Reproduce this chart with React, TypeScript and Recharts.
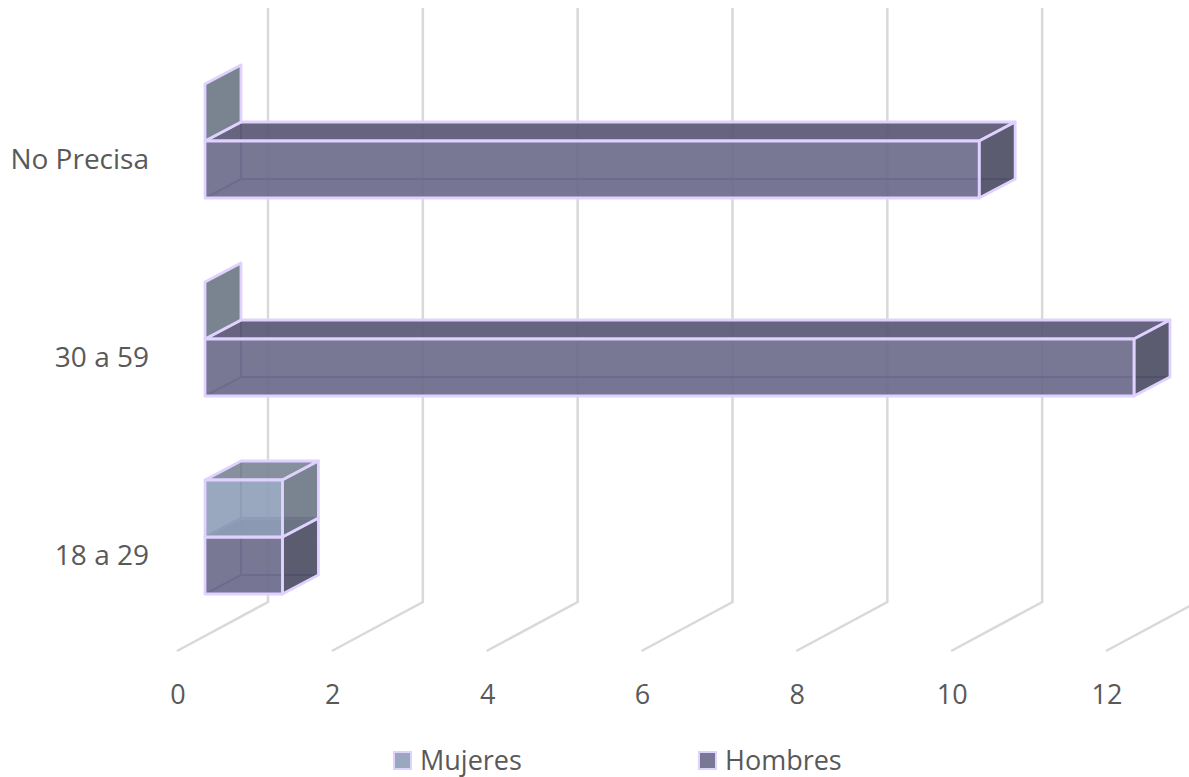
import { Bar, BarChart, CartesianGrid, Legend, XAxis, YAxis } from 'recharts';

const categories = ['No Precisa', '30 a 59', '18 a 29'];
const mujeres = [0, 0, 1];
const hombres = [10, 12, 1];
const xTicks = [0, 2, 4, 6, 8, 10, 12];

const data = categories.map((name, i) => ({ name, Mujeres: mujeres[i], Hombres: hombres[i] }));

const FONT = '"Open Sans", sans-serif';
const TEXT = '#595959';
const GRID = '#d9d9d9';
const EDGE = '#e0d2ff';
const DEPTH_X = 36;
const DEPTH_Y = -19;

const mujeresFaces = { front: '#8f9eb8', top: '#7a8594', side: '#6b7684' };
const hombresFaces = { front: '#696888', top: '#565371', side: '#4a4a62' };

function pts(list: number[][]) {
  return list.map((p) => p.join(',')).join(' ');
}

// 3D box, the front face is the rectangle the scale gives us
function boxShape(faces: { front: string; top: string; side: string }) {
  return function Box(props: any) {
    const { x, y, width, height } = props;
    const r = x + width;
    const b = y + height;
    const face = { stroke: EDGE, strokeWidth: 2.8, strokeLinejoin: 'round' as const, fillOpacity: 0.9 };
    const left = (
      <polygon
        points={pts([[x, y], [x + DEPTH_X, y + DEPTH_Y], [x + DEPTH_X, b + DEPTH_Y], [x, b]])}
        fill={faces.side}
        {...face}
      />
    );
    if (!width) return <g>{left}</g>;
    return (
      <g>
        <polygon
          points={pts([[x, b], [x + DEPTH_X, b + DEPTH_Y], [r + DEPTH_X, b + DEPTH_Y], [r, b]])}
          fill={faces.top}
          fillOpacity={0.12}
        />
        <path
          d={`M${x},${b} L${x + DEPTH_X},${b + DEPTH_Y} L${r + DEPTH_X},${b + DEPTH_Y} M${x + DEPTH_X},${b + DEPTH_Y} L${x + DEPTH_X},${y + DEPTH_Y}`}
          fill="none"
          stroke="#5f58a8"
          strokeOpacity={0.7}
          strokeWidth={2}
        />
        <polygon
          points={pts([[x, y], [x + DEPTH_X, y + DEPTH_Y], [r + DEPTH_X, y + DEPTH_Y], [r, y]])}
          fill={faces.top}
          {...face}
        />
        <polygon
          points={pts([[r, y], [r + DEPTH_X, y + DEPTH_Y], [r + DEPTH_X, b + DEPTH_Y], [r, b]])}
          fill={faces.side}
          {...face}
        />
        <rect x={x} y={y} width={width} height={height} fill={faces.front} {...face} />
      </g>
    );
  };
}

// wall line plus the floor line running towards the tick label
function GridLine(props: any) {
  const x = props.x1 + 63;
  return (
    <path
      key={props.index}
      d={`M${x},8 L${x},602 L${x - 91},651`}
      fill="none"
      stroke={GRID}
      strokeWidth={2.5}
    />
  );
}

function XTick({ x, payload }: any) {
  return (
    <text x={x - 27} y={704} textAnchor="middle" fontSize={27} fontFamily={FONT} fill={TEXT}>
      {payload.value}
    </text>
  );
}

function YTick({ y, payload }: any) {
  return (
    <text x={149} y={y + 28} textAnchor="end" fontSize={28} fontFamily={FONT} fill={TEXT}>
      {payload.value}
    </text>
  );
}

const legendSlots: Record<string, number> = { Mujeres: 393, Hombres: 698 };

function LegendRow({ payload }: any) {
  return (
    <div style={{ position: 'relative', height: 0 }}>
      {(payload || []).map((item: any) => (
        <div
          key={item.value}
          style={{
            position: 'absolute',
            left: legendSlots[item.value],
            top: 0,
            display: 'flex',
            alignItems: 'center',
            fontFamily: FONT,
            fontSize: 27,
            lineHeight: '26px',
            color: TEXT,
          }}
        >
          <span
            style={{
              width: 15,
              height: 15,
              marginRight: 8,
              background: item.color,
              border: `2px solid ${EDGE}`,
            }}
          />
          {item.value}
        </div>
      ))}
    </div>
  );
}

export default function App() {
  return (
    <div style={{ position: 'absolute', left: 0, top: 0, width: 1189, height: 777, overflow: 'hidden' }}>
      <BarChart
        width={1189}
        height={777}
        data={data}
        layout="vertical"
        margin={{ top: 42, right: 55, bottom: 0, left: 0 }}
        barSize={57}
        barGap={-114}
      >
        <CartesianGrid horizontal={false} vertical={GridLine as any} />
        <XAxis
          type="number"
          domain={[0, 12]}
          ticks={xTicks}
          axisLine={false}
          tickLine={false}
          tick={XTick as any}
          height={141}
          interval={0}
        />
        <YAxis
          type="category"
          dataKey="name"
          width={205}
          axisLine={false}
          tickLine={false}
          tick={YTick as any}
        />
        <Legend
          content={LegendRow as any}
          wrapperStyle={{ left: 0, top: 747, width: 1189, height: 0 }}
        />
        <Bar dataKey="Hombres" fill="#787794" shape={boxShape(hombresFaces)} isAnimationActive={false} />
        <Bar dataKey="Mujeres" fill="#9aa8bf" shape={boxShape(mujeresFaces)} isAnimationActive={false} />
      </BarChart>
    </div>
  );
}
